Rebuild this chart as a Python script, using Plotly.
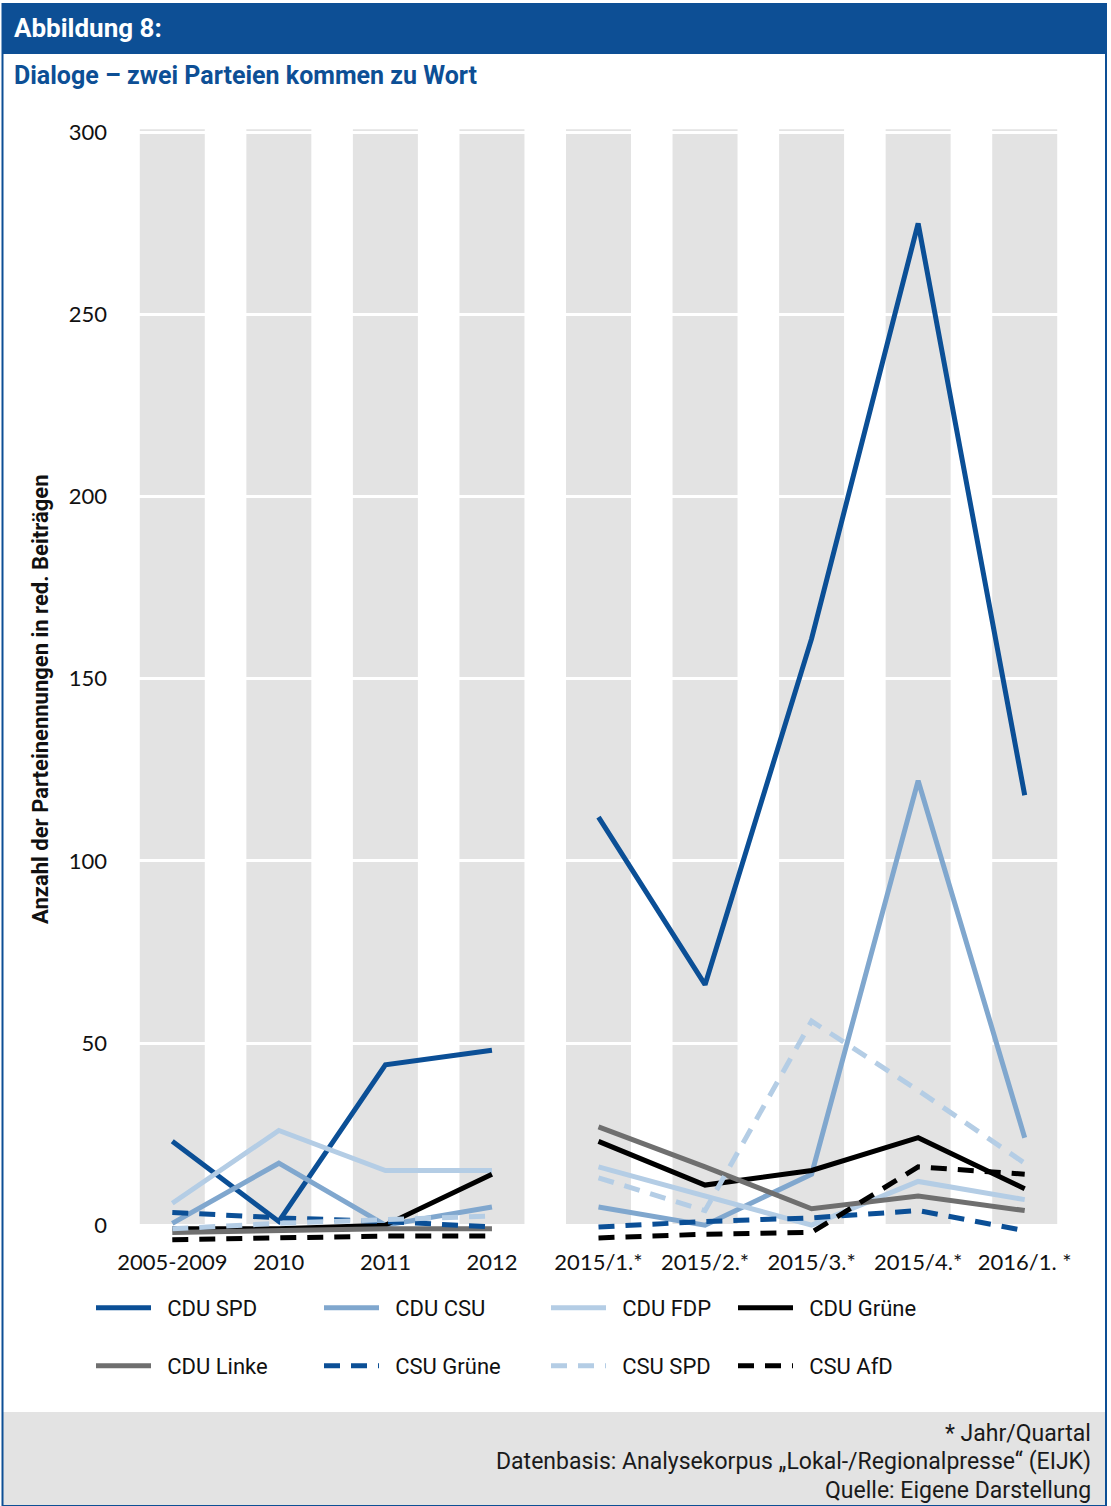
import plotly.graph_objects as go

# ---------------- data ----------------
categories = ["2005-2009", "2010", "2011", "2012",
              "2015/1.*", "2015/2.*", "2015/3.*", "2015/4.*", "2016/1. *"]
y_ticks = [0, 50, 100, 150, 200, 250, 300]

cdu_spd    = [23, 1, 44, 48, 112, 66, 161, 275, 118]
cdu_csu    = [0.5, 17, 0, 5, 5, 0, 14, 122, 24]
cdu_fdp    = [6, 26, 15, 15, 16, 8, 0, 12, 7]
cdu_gruene = [-1, -1, 0, 14, 23, 11, 15, 24, 10]
cdu_linke  = [-2, -1.5, -1, -1, 27, 16, 4.5, 8, 4]
csu_gruene = [3.5, 2, 1, -0.5, -0.5, 1, 2, 4, -1.5]
csu_spd    = [-1, 0.5, 1.5, 2.5, 13, 4, 56, 37, 17]
csu_afd    = [-4, -3.5, -3, -3, -3.5, -2.5, -2, 16, 14]

series_names = ["CDU SPD", "CDU CSU", "CDU FDP", "CDU Grüne",
                "CDU Linke", "CSU Grüne", "CSU SPD", "CSU AfD"]
series_values = [cdu_spd, cdu_csu, cdu_fdp, cdu_gruene,
                 cdu_linke, csu_gruene, csu_spd, csu_afd]

# ---------------- styles ----------------
DARK = "#0b4f96"
MID = "#80a7ce"
LIGHT = "#b4cde5"
BLACK = "#000000"
GRAY = "#6f6f6f"
styles = [
    (DARK, "solid"), (MID, "solid"), (LIGHT, "solid"), (BLACK, "solid"),
    (GRAY, "solid"), (DARK, "16px,11px"), (LIGHT, "16px,11px"), (BLACK, "16px,11px"),
]
# legend layout: (sample start x px, row center y px)
legend_pos = [(96, 1308), (324, 1308), (551, 1308), (738, 1308),
              (96, 1366), (324, 1366), (551, 1366), (738, 1366)]
LEGEND_PAD = "\u2002"  # visual gap between line sample and label

W, H = 1111, 1506
def pxx(x): return x / W
def pxy(y): return 1 - y / H

FONT = "Roboto, 'Noto Sans', sans-serif"
NUMFONT = "Lato, 'Open Sans', sans-serif"
BLUE = "#0d4f95"

# plot area in pixels
PL, PR, PT, PB = 135, 1062, 125, 1247
XR = [-0.35, 8.35]
YR = [-6, 302]

fig = go.Figure()

xs_left = [0, 1, 2, 3]
xs_right = [4, 5, 6, 7, 8]

for i, (name, vals) in enumerate(zip(series_names, series_values)):
    color, dash = styles[i]
    x = xs_left + [3.5] + xs_right
    y = vals[:4] + [None] + vals[4:]
    lg = "legend" if i == 0 else f"legend{i+1}"
    fig.add_trace(go.Scatter(
        x=x, y=y, mode="lines", name=LEGEND_PAD + name, legend=lg,
        line=dict(color=color, width=5, dash=dash),
        connectgaps=False, hoverinfo="skip",
    ))

shapes = []
# grey columns behind each category
for k in range(len(categories)):
    shapes.append(dict(type="rect", xref="x", yref="y", layer="below",
                       x0=k - 0.305, x1=k + 0.305, y0=0, y1=300.8,
                       fillcolor="#e3e3e3", line=dict(width=0)))
# header bar
shapes.append(dict(type="rect", xref="paper", yref="paper", layer="above",
                   x0=pxx(2), x1=pxx(1107), y0=pxy(54), y1=pxy(4),
                   fillcolor=BLUE, line=dict(width=0)))
# footer band
shapes.append(dict(type="rect", xref="paper", yref="paper", layer="below",
                   x0=pxx(2), x1=pxx(1107), y0=pxy(1506), y1=pxy(1412),
                   fillcolor="#e3e3e3", line=dict(width=0)))
# frame
shapes.append(dict(type="rect", xref="paper", yref="paper", layer="above",
                   x0=pxx(2.5), x1=pxx(1106), y0=pxy(1506), y1=pxy(4),
                   fillcolor="rgba(0,0,0,0)", line=dict(color=BLUE, width=2)))

annotations = [
    dict(text="<b>Abbildung 8:</b>", x=pxx(12), y=pxy(28), xanchor="left", yanchor="middle",
         font=dict(family=FONT, size=26, color="white")),
    dict(text="<b>Dialoge – zwei Parteien kommen zu Wort</b>", x=pxx(12), y=pxy(76),
         xanchor="left", yanchor="middle", font=dict(family=FONT, size=25, color=BLUE)),
    dict(text="<b>Anzahl der Parteinennungen in red. Beiträgen</b>", x=pxx(40), y=pxy(699),
         xanchor="center", yanchor="middle", textangle=-90,
         font=dict(family=FONT, size=22, color="#111111")),
    dict(text="* Jahr/Quartal", x=pxx(1093), y=pxy(1433), xanchor="right", yanchor="middle",
         font=dict(family=FONT, size=23, color="#1a1a1a")),
    dict(text="Datenbasis: Analysekorpus „Lokal-/Regionalpresse“ (EIJK)", x=pxx(1093), y=pxy(1461),
         xanchor="right", yanchor="middle", font=dict(family=FONT, size=23, color="#1a1a1a")),
    dict(text="Quelle: Eigene Darstellung", x=pxx(1093), y=pxy(1490), xanchor="right",
         yanchor="middle", font=dict(family=FONT, size=23, color="#1a1a1a")),
]
for a in annotations:
    a.update(xref="paper", yref="paper", showarrow=False)

layout_legends = {}
for i, (lx, ly) in enumerate(legend_pos):
    key = "legend" if i == 0 else f"legend{i+1}"
    layout_legends[key] = dict(
        x=pxx(lx - 5), y=pxy(ly), xanchor="left", yanchor="middle",
        itemwidth=55, bgcolor="rgba(0,0,0,0)", borderwidth=0,
        font=dict(family=FONT, size=22, color="#111111"),
    )

fig.update_layout(
    template="none",
    width=W, height=H, autosize=False,
    margin=dict(l=0, r=0, t=0, b=0, pad=0, autoexpand=False),
    paper_bgcolor="white", plot_bgcolor="white",
    showlegend=True, hovermode=False,
    xaxis=dict(domain=[PL / W, PR / W], range=XR, tickmode="array",
               tickvals=list(range(len(categories))), ticktext=categories,
               showgrid=False, zeroline=False, showline=False, ticks="",
               automargin=False,
               tickfont=dict(family=NUMFONT, size=22, color="#111111"),
               ticklabelstandoff=0, fixedrange=True),
    yaxis=dict(domain=[1 - PB / H, 1 - PT / H], range=YR, tickmode="array",
               tickvals=y_ticks, showgrid=True, gridcolor="white", gridwidth=3,
               zeroline=False, showline=False, ticks="", automargin=False,
               tickfont=dict(family=NUMFONT, size=22, color="#111111"),
               ticklabelstandoff=27, fixedrange=True),
    shapes=shapes,
    annotations=annotations,
    **layout_legends,
)

fig.write_html(
    "out.html",
    config={"displayModeBar": False},
    post_script="document.body.style.margin='0';document.body.style.overflow='hidden';",
)
